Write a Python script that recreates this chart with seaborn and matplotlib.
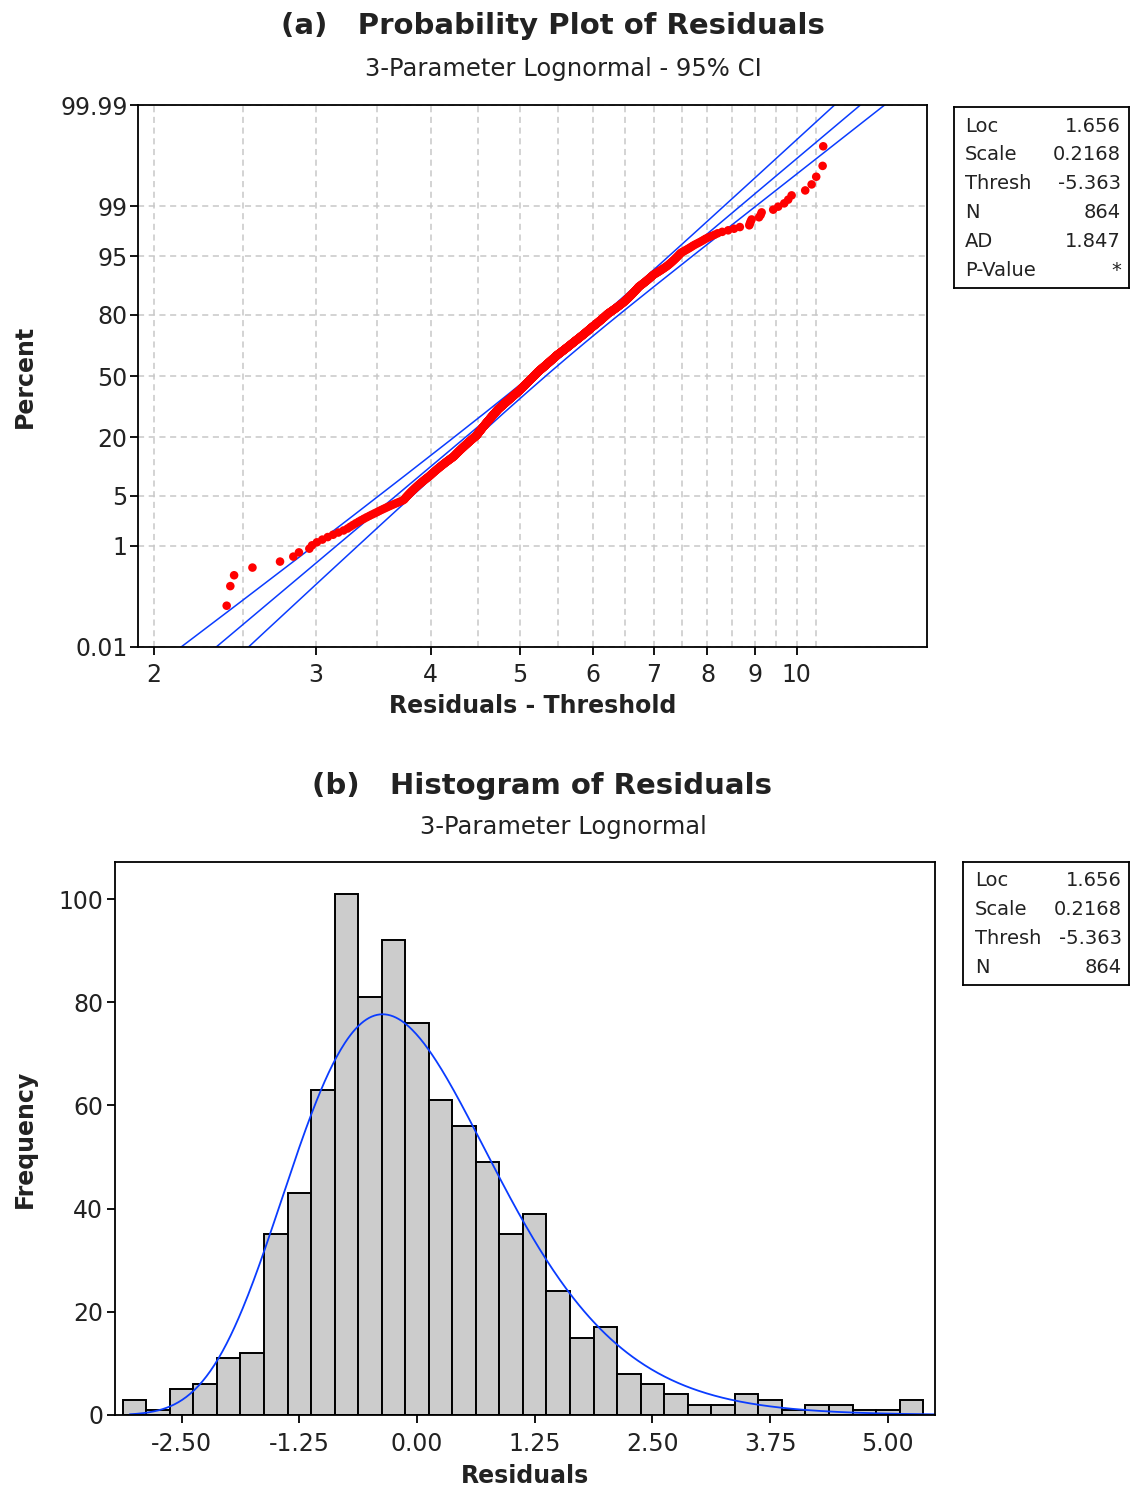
import numpy as np
import pandas as pd
import matplotlib
matplotlib.use("Agg")
import matplotlib.pyplot as plt
import seaborn as sns
from matplotlib.ticker import NullFormatter
from statistics import NormalDist

# ---------------- data ----------------
bin_centers = [-3.00, -2.75, -2.50, -2.25, -2.00, -1.75, -1.50, -1.25, -1.00, -0.75,
               -0.50, -0.25, 0.00, 0.25, 0.50, 0.75, 1.00, 1.25, 1.50, 1.75,
               2.00, 2.25, 2.50, 2.75, 3.00, 3.25, 3.50, 3.75, 4.00, 4.25,
               4.50, 4.75, 5.00, 5.25]
bin_counts = [3, 1, 5, 6, 11, 12, 35, 43, 63, 101,
              81, 92, 76, 61, 56, 49, 35, 39, 24, 15,
              17, 8, 6, 4, 2, 2, 4, 3, 1, 2,
              2, 1, 1, 3]
bin_width = 0.25

# residuals of the individually visible tail points of the probability plot
tail_points = {
    -3.00: [-2.962, -2.940, -2.917],
    -2.75: [-2.802],
    -2.50: [-2.619, -2.526, -2.486, -2.410, -2.390],
    3.50: [3.520, 3.534, 3.550, 3.572],
    3.75: [3.740, 3.776, 3.799],
    4.00: [4.068],
    4.25: [4.187, 4.332],
    4.50: [4.429, 4.513],
    4.75: [4.855],
    5.00: [5.020],
    5.25: [5.140, 5.310, 5.326],
}

fit_loc = 1.656
fit_scale = 0.2168
fit_thresh = -5.363
fit_n = 864
fit_ad = 1.847
# variance components of the fitted percentile (x-space) for the 95% CI
ci_vt, ci_a, ci_b, ci_c = 0.00689, 5.44e-5, 7.3e-5, -0.000561

pct_ticks = [0.01, 1, 5, 20, 50, 80, 95, 99, 99.99]
pct_labels = ["0.01", "1", "5", "20", "50", "80", "95", "99", "99.99"]
x_ticks = [2, 3, 4, 5, 6, 7, 8, 9, 10]
x_grid_minor = [2.5, 3.5, 4.5, 5.5, 6.5, 7.5, 8.5, 9.5, 10.5]
hist_xticks = [-2.50, -1.25, 0.00, 1.25, 2.50, 3.75, 5.00]
hist_yticks = [0, 20, 40, 60, 80, 100]

# ---------------- build sample ----------------
res = []
for c, k in zip(bin_centers, bin_counts):
    key = round(c, 2)
    if key in tail_points:
        res.extend(tail_points[key])
    else:
        lo = c - bin_width / 2
        res.extend(lo + bin_width * (np.arange(k) + 0.5) / k)
res = np.sort(np.array(res))
n = len(res)

nd = NormalDist()
ranks = np.arange(1, n + 1)
pp = (ranks - 0.3) / (n + 0.4)
zvals = np.array([nd.inv_cdf(p) for p in pp])
df_pts = pd.DataFrame({"x": res - fit_thresh, "z": zvals})

zline = np.linspace(-4.2, 4.2, 500)
xfit = np.exp(fit_loc + fit_scale * zline)
se = np.sqrt(ci_vt + xfit ** 2 * (ci_a + ci_b * zline ** 2) + 2 * xfit * ci_c)
df_fit = pd.DataFrame({"z": zline, "fit": xfit, "lo": xfit - 1.96 * se, "hi": xfit + 1.96 * se})

edges = np.append(np.array(bin_centers) - bin_width / 2, bin_centers[-1] + bin_width / 2)
rgrid = np.linspace(-3.05, 5.50, 600)
xr = rgrid - fit_thresh
pdf = np.exp(-(np.log(xr) - fit_loc) ** 2 / (2 * fit_scale ** 2)) / (xr * fit_scale * np.sqrt(2 * np.pi))
df_curve = pd.DataFrame({"r": rgrid, "f": fit_n * bin_width * pdf})

# ---------------- style ----------------
sns.set_theme(style="ticks")
plt.rcParams["font.family"] = ["DejaVu Sans"]
plt.rcParams["axes.unicode_minus"] = False
TXT = "#222222"
BLUE = "#0a3cff"
GRID = "#c8c8c8"

W, H = 1130, 1494
fig = plt.figure(figsize=(W / 100, H / 100), dpi=100)


def fx(px):
    return px / W


def fy(py):
    return 1 - py / H


ax1 = fig.add_axes([fx(138), fy(647), (927 - 138) / W, (647 - 105) / H])
ax2 = fig.add_axes([fx(115), fy(1415), (935 - 115) / W, (1415 - 862) / H])

# ---------- (a) probability plot ----------
ax1.set_xscale("log")
zmax = nd.inv_cdf(0.9999)
ax1.set_axisbelow(True)
ax1.set_xticks(x_ticks)
ax1.set_xticklabels([str(v) for v in x_ticks])
ax1.set_xticks(x_grid_minor, minor=True)
ax1.xaxis.set_minor_formatter(NullFormatter())
ax1.set_yticks([nd.inv_cdf(p / 100) for p in pct_ticks])
ax1.set_yticklabels(pct_labels)
ax1.grid(True, which="both", axis="x", color=GRID, linestyle=(0, (4, 3)), linewidth=1.1)
ax1.grid(True, which="major", axis="y", color=GRID, linestyle=(0, (4, 3)), linewidth=1.1)

for col in ["lo", "fit", "hi"]:
    sns.lineplot(data=df_fit, x=col, y="z", sort=False, estimator=None, color=BLUE,
                 linewidth=1.1, ax=ax1)
sns.scatterplot(data=df_pts, x="x", y="z", color="#ff0000", s=38, edgecolor="none",
                linewidth=0, ax=ax1, zorder=4)
ax1.set_xlim(1.923, 13.86)
ax1.set_ylim(-zmax, zmax)

ax1.set_xlabel("Residuals - Threshold", fontsize=17, fontweight="bold", color=TXT)
ax1.set_ylabel("Percent", fontsize=17, fontweight="bold", color=TXT)
ax1.xaxis.set_label_coords(0.5, -0.087)
ax1.yaxis.set_label_coords((37 - 138) / 789, 0.5)

# ---------- (b) histogram ----------
sns.histplot(x=res, bins=edges, stat="count", color="#cccccc", edgecolor="black",
             linewidth=1.4, alpha=1.0, ax=ax2)
sns.lineplot(data=df_curve, x="r", y="f", color=BLUE, linewidth=1.3, ax=ax2)
ax2.set_xlim(-3.207, 5.501)
ax2.set_ylim(0, 107.2)
ax2.set_xticks(hist_xticks)
ax2.set_xticklabels([f"{v:.2f}" for v in hist_xticks])
ax2.set_yticks(hist_yticks)
ax2.set_xlabel("Residuals", fontsize=17, fontweight="bold", color=TXT)
ax2.set_ylabel("Frequency", fontsize=17, fontweight="bold", color=TXT)
ax2.xaxis.set_label_coords(0.5, -0.089)
ax2.yaxis.set_label_coords((37 - 115) / 820, 0.5)

for ax in (ax1, ax2):
    for s in ax.spines.values():
        s.set_visible(True)
        s.set_color("black")
        s.set_linewidth(1.3)
    ax.tick_params(which="major", direction="out", length=5.5, width=1.3, color="black",
                   labelsize=17, labelcolor=TXT)
ax1.tick_params(which="minor", length=0)
ax1.tick_params(axis="y", pad=2)
ax1.tick_params(axis="x", pad=6)
ax2.tick_params(axis="y", pad=3)
ax2.tick_params(axis="x", pad=7)

# ---------- titles ----------
fig.text(fx(553), fy(34), "(a)   Probability Plot of Residuals", ha="center", va="baseline",
         fontsize=21, fontweight="bold", color=TXT)
fig.text(fx(563), fy(76), "3-Parameter Lognormal - 95% CI", ha="center", va="baseline",
         fontsize=17.5, color=TXT)
fig.text(fx(542), fy(794), "(b)   Histogram of Residuals", ha="center", va="baseline",
         fontsize=21, fontweight="bold", color=TXT)
fig.text(fx(563), fy(834), "3-Parameter Lognormal", ha="center", va="baseline",
         fontsize=17.5, color=TXT)

# ---------- stats boxes ----------
def stat_box(left, top, bottom, lab_x, val_x, row0, rows):
    bx = fig.add_axes([fx(left), fy(bottom), (1129 - left) / W, (bottom - top) / H])
    bx.set_xticks([])
    bx.set_yticks([])
    for s in bx.spines.values():
        s.set_color("black")
        s.set_linewidth(1.3)
    for i, (lab, val) in enumerate(rows):
        yy = fy(row0 + i * 28.9)
        fig.text(fx(lab_x), yy, lab, ha="left", va="center", fontsize=14, color=TXT)
        fig.text(fx(val_x), yy, val, ha="right", va="center", fontsize=14, color=TXT)


rows_a = [("Loc", f"{fit_loc:.3f}"), ("Scale", f"{fit_scale:.4f}"), ("Thresh", f"{fit_thresh:.3f}"),
          ("N", f"{fit_n}"), ("AD", f"{fit_ad:.3f}"), ("P-Value", "*")]
rows_b = rows_a[:4]
stat_box(954, 107, 288, 965, 1121, 126, rows_a)
stat_box(963, 862, 985, 975, 1122, 881, rows_b)

fig.savefig("out.png", dpi=100)
